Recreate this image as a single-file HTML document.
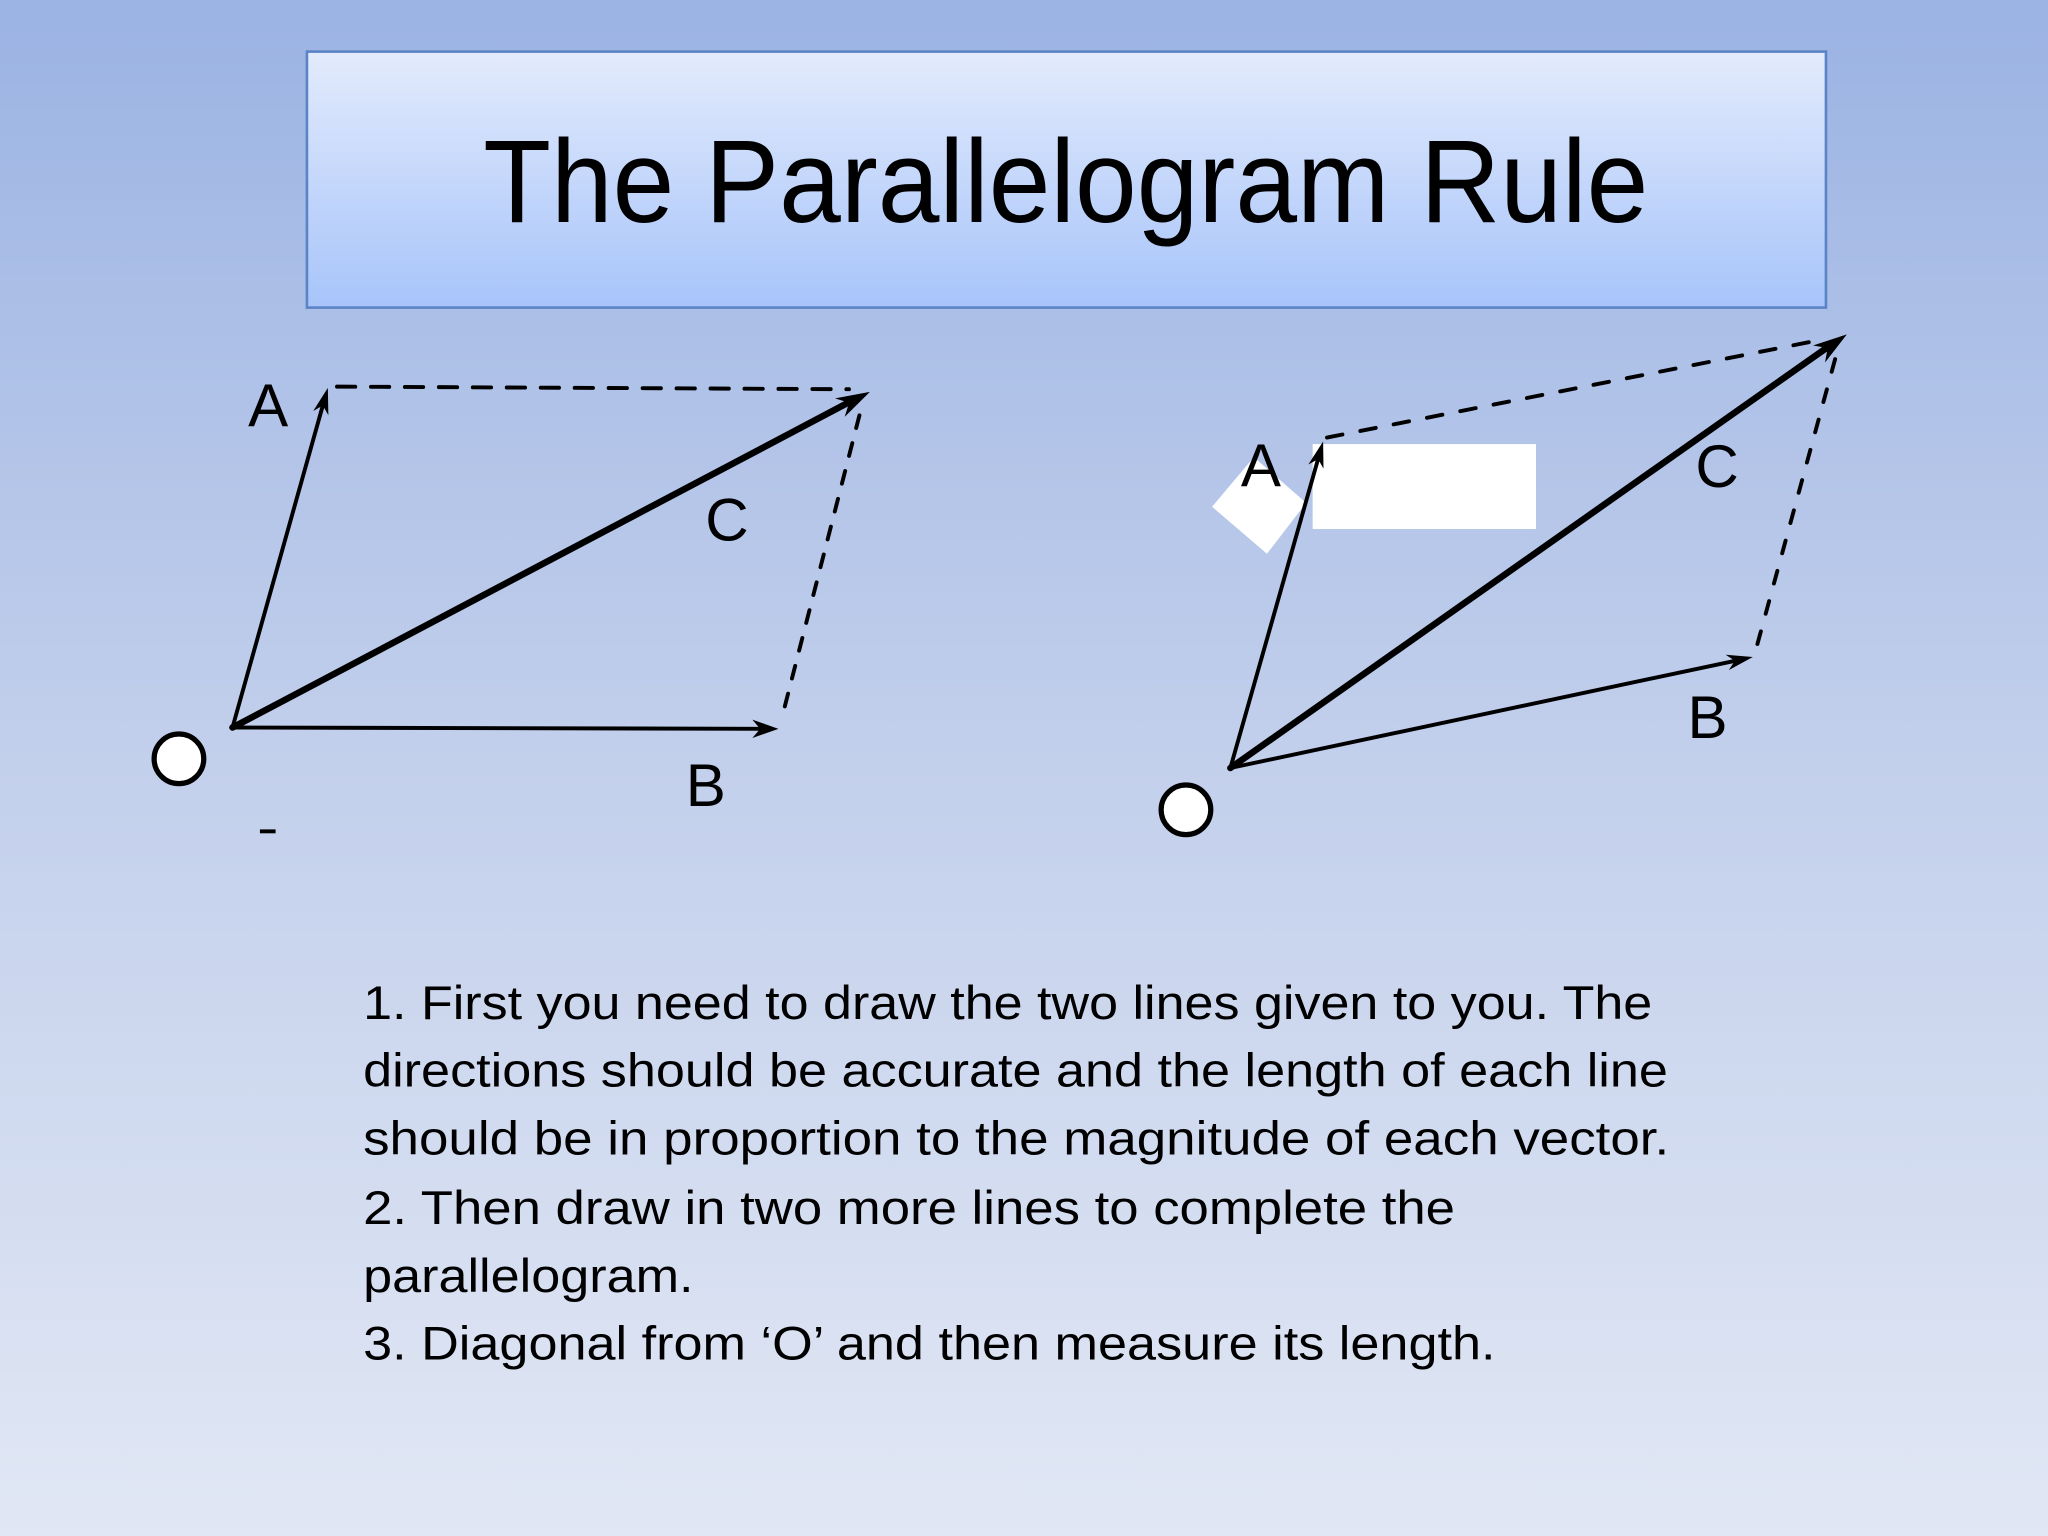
<!DOCTYPE html>
<html><head><meta charset="utf-8"><style>
html,body{margin:0;padding:0;width:2048px;height:1536px;overflow:hidden}
svg{display:block}
</style></head><body>
<svg width="2048" height="1536" viewBox="0 0 1568 1176" xmlns="http://www.w3.org/2000/svg">
<defs>
<linearGradient id="bg" x1="0" y1="0" x2="0" y2="1">
<stop offset="0" stop-color="#9bb3e3"/><stop offset="0.5" stop-color="#c3d0ec"/><stop offset="1" stop-color="#e1e7f4"/>
</linearGradient>
<linearGradient id="tb" x1="0" y1="0" x2="0" y2="1">
<stop offset="0" stop-color="#e3ebfc"/><stop offset="1" stop-color="#a7c4fa"/>
</linearGradient>
</defs>
<rect width="1568" height="1176" fill="url(#bg)"/>
<rect x="235" y="39.5" width="1163" height="196" fill="url(#tb)" stroke="#5b84c6" stroke-width="2"/>
<text x="816" y="170" text-anchor="middle" font-family="Liberation Sans, sans-serif" font-size="90" textLength="892" lengthAdjust="spacingAndGlyphs" fill="#000">The Parallelogram Rule</text>

<g stroke="#000" fill="none" stroke-linecap="round">
<line x1="178" y1="557" x2="247" y2="311" stroke-width="3"/>
<line x1="178" y1="557" x2="650" y2="308" stroke-width="5"/>
<line x1="178" y1="557" x2="582" y2="558" stroke-width="3"/>
<line x1="258" y1="296" x2="650" y2="298" stroke-width="3" stroke-dasharray="14,12"/>
<line x1="658" y1="318" x2="598" y2="552" stroke-width="3" stroke-dasharray="10,12"/>
<line x1="942" y1="588" x2="1399" y2="266" stroke-width="5"/>
<line x1="942" y1="588" x2="1328" y2="506" stroke-width="3"/>
<line x1="1016" y1="335" x2="1395" y2="260" stroke-width="3" stroke-dasharray="12,14"/>
<line x1="1405" y1="275" x2="1345" y2="495" stroke-width="3" stroke-dasharray="10,14"/>
</g>
<g fill="#000">
<polygon points="251,297 251.4,317.9 247.2,310.5 239.8,314.7"/>
<polygon points="666,300 646.7,319.2 650.1,308.4 639.3,305"/>
<polygon points="596,558 576,565 582,558 576,551"/>
<polygon points="1414,256 1397.3,277.5 1399.3,266.4 1388.1,264.5"/>
<polygon points="1342,503 1323.6,513.1 1328.3,505.9 1321.2,501.3"/>
</g>
<rect x="1005" y="340" width="171" height="65" fill="#fff"/>
<polygon points="928,388 960,350 1000,385 970,424" fill="#fff"/>
<line x1="942" y1="588" x2="1009" y2="352" stroke="#000" stroke-width="3" stroke-linecap="round"/>
<polygon points="1013,338 1013.3,358.8 1009.2,351.5 1001.7,355.6" fill="#000"/>
<g font-family="Liberation Sans, sans-serif" font-size="46" fill="#000">
<text x="190" y="326">A</text>
<text x="540" y="414">C</text>
<text x="525" y="617">B</text>
<text x="950" y="372">A</text>
<text x="1298" y="373">C</text>
<text x="1292" y="565">B</text>
</g>
<rect x="199" y="635" width="12" height="3" fill="#000"/>
<circle cx="137" cy="581" r="19" fill="#fff" stroke="#000" stroke-width="4"/>
<circle cx="908" cy="620" r="19" fill="#fff" stroke="#000" stroke-width="4"/>

<g font-family="Liberation Sans, sans-serif" font-size="36" fill="#000">
<text x="278" y="780" textLength="987" lengthAdjust="spacingAndGlyphs">1. First you need to draw the two lines given to you. The</text>
<text x="278" y="832" textLength="999" lengthAdjust="spacingAndGlyphs">directions should be accurate and the length of each line</text>
<text x="278" y="884" textLength="1000" lengthAdjust="spacingAndGlyphs">should be in proportion to the magnitude of each vector.</text>
<text x="278" y="937" textLength="836" lengthAdjust="spacingAndGlyphs">2. Then draw in two more lines to complete the</text>
<text x="278" y="989" textLength="253" lengthAdjust="spacingAndGlyphs">parallelogram.</text>
<text x="278" y="1041" textLength="867" lengthAdjust="spacingAndGlyphs">3. Diagonal from ‘O’ and then measure its length.</text>
</g>
</svg>
</body></html>
